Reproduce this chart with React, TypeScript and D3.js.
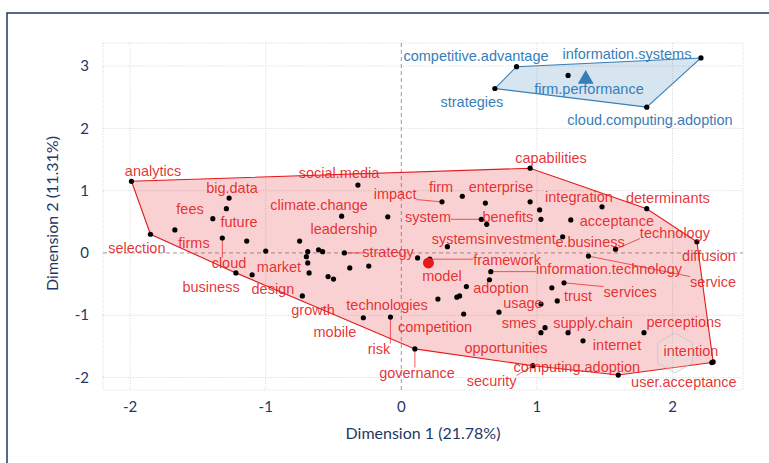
import React from 'react';
import * as d3 from 'd3';

const W = 769;
const H = 463;

const xTicks = [-2, -1, 0, 1, 2];
const yTicks = [-2, -1, 0, 1, 2, 3];
const xTitle = 'Dimension 1 (21.78%)';
const yTitle = 'Dimension 2 (11.31%)';

// [word, x, y, labelX, labelY]  (data units)
const redWords: [string, number, number, number, number][] = [
  ['analytics', -1.99, 1.15, -1.831, 1.315],
  ['selection', -1.85, 0.3, -1.95, 0.079],
  ['big.data', -1.27, 0.88, -1.249, 1.042],
  ['fees', -1.39, 0.55, -1.558, 0.705],
  ['future', -1.29, 0.71, -1.197, 0.496],
  ['firms', -1.67, 0.37, -1.529, 0.159],
  ['cloud', -1.32, 0.24, -1.271, -0.162],
  ['market', -1.0, 0.03, -0.902, -0.226],
  ['business', -1.22, -0.32, -1.403, -0.547],
  ['design', -1.1, -0.35, -0.947, -0.58],
  ['growth', -0.73, -0.69, -0.651, -0.917],
  ['leadership', -0.75, 0.19, -0.423, 0.384],
  ['climate.change', -0.44, 0.59, -0.607, 0.769],
  ['social.media', -0.32, 1.09, -0.459, 1.283],
  ['strategy', -0.42, 0.0, -0.098, 0.014],
  ['impact', 0.3, 0.82, -0.046, 0.945],
  ['firm', 0.45, 0.91, 0.293, 1.058],
  ['enterprise', 0.95, 0.82, 0.735, 1.058],
  ['system', 0.59, 0.54, 0.197, 0.576],
  ['benefits', 0.63, 0.46, 0.786, 0.576],
  ['systems', 0.34, 0.1, 0.42, 0.223],
  ['investment', 1.03, 0.54, 0.88, 0.223],
  ['e.business', 1.19, 0.26, 1.392, 0.175],
  ['technology', 1.58, 0.06, 2.018, 0.319],
  ['diffusion', 2.18, 0.18, 2.269, -0.05],
  ['capabilities', 0.95, 1.36, 1.104, 1.524],
  ['integration', 1.48, 0.74, 1.31, 0.897],
  ['determinants', 1.81, 0.71, 1.966, 0.881],
  ['acceptance', 1.25, 0.53, 1.59, 0.512],
  ['framework', 0.21, -0.1, 0.78, -0.114],
  ['model', 0.12, -0.08, 0.3, -0.371],
  ['information.technology', 0.66, -0.3, 1.532, -0.259],
  ['service', 1.38, -0.05, 2.299, -0.467],
  ['services', 1.2, -0.48, 1.688, -0.628],
  ['trust', 1.15, -0.77, 1.303, -0.692],
  ['adoption', 0.48, -0.54, 0.735, -0.565],
  ['usage', 1.03, -0.82, 0.897, -0.8],
  ['technologies', 0.27, -0.74, -0.105, -0.836],
  ['competition', 0.46, -0.98, 0.249, -1.19],
  ['mobile', -0.28, -1.04, -0.49, -1.27],
  ['risk', -0.08, -1.03, -0.164, -1.543],
  ['governance', 0.1, -1.54, 0.116, -1.928],
  ['security', 0.97, -1.81, 0.666, -2.056],
  ['smes', 1.03, -1.28, 0.868, -1.124],
  ['supply.chain', 1.23, -1.28, 1.414, -1.124],
  ['internet', 1.34, -1.41, 1.591, -1.478],
  ['opportunities', 1.06, -1.2, 0.772, -1.527],
  ['perceptions', 1.79, -1.28, 2.084, -1.109],
  ['intention', 2.3, -1.75, 2.136, -1.575],
  ['user.acceptance', 2.29, -1.76, 2.084, -2.072],
  ['computing.adoption', 1.6, -1.96, 1.295, -1.831],
];

// unlabeled points of the red cluster (labels hidden by overlap)
const redExtra: [number, number][] = [
  [-1.14, 0.19], [-0.69, 0.02], [-0.7, -0.06], [-0.69, -0.16], [-0.68, -0.32],
  [-0.61, 0.05], [-0.58, 0.02], [-0.54, -0.38], [-0.5, -0.42], [-0.1, 0.58],
  [-0.38, -0.24], [-0.24, -0.21], [0.62, 0.8], [0.41, -0.71], [0.43, -0.69],
  [0.65, -0.43], [0.72, -0.95], [1.02, 0.69], [1.11, -0.56],
];

const blueWords: [string, number, number, number, number][] = [
  ['competitive.advantage', 0.85, 2.99, 0.551, 3.16],
  ['information.systems', 2.21, 3.13, 1.664, 3.192],
  ['strategies', 0.69, 2.64, 0.521, 2.422],
  ['firm.performance', 1.23, 2.85, 1.384, 2.631],
  ['cloud.computing.adoption', 1.81, 2.34, 1.834, 2.133],
];

const redCentroid: [number, number] = [0.2, -0.16];
const blueCentroid: [number, number] = [1.36, 2.79];

const RED = '#E41A1C';
const BLUE = '#377EB8';
const NAVY = '#1F3864';
const LABEL_FONT = '"Liberation Sans", Arial, sans-serif';
const LABEL_SIZE = 14.5;
const AXIS_FONT = 'Lato, "Open Sans", sans-serif';

const PANEL = { left: 103, right: 743, top: 43, bottom: 390 };

let ctx: CanvasRenderingContext2D | null = null;
function textWidth(t: string): number {
  if (typeof document === 'undefined') return t.length * 7;
  if (!ctx) ctx = document.createElement('canvas').getContext('2d');
  if (!ctx) return t.length * 7;
  ctx.font = `${LABEL_SIZE}px ${LABEL_FONT}`;
  return ctx.measureText(t).width;
}

export default function App() {
  const x = d3.scaleLinear().domain([-2.2, 2.52]).range([PANEL.left, PANEL.right]);
  const y = d3.scaleLinear().domain([-2.2, 3.37]).range([PANEL.bottom, PANEL.top]);

  const redPts: [number, number][] = [
    ...redWords.map((w) => [x(w[1]), y(w[2])] as [number, number]),
    ...redExtra.map((p) => [x(p[0]), y(p[1])] as [number, number]),
  ];
  const bluePts: [number, number][] = blueWords.map((w) => [x(w[1]), y(w[2])] as [number, number]);
  const redHull = d3.polygonHull(redPts) || [];
  const blueHull = d3.polygonHull(bluePts) || [];
  const line = d3.line<[number, number]>().curve(d3.curveLinearClosed);

  const leader = (w: [string, number, number, number, number], color: string, key: string) => {
    const px = x(w[1]);
    const py = y(w[2]);
    const cx = x(w[3]);
    const cy = y(w[4]);
    const tw = textWidth(w[0]);
    const x0 = cx - tw / 2, x1 = cx + tw / 2, y0 = cy - 5.5, y1 = cy + 5.5;
    const nx = Math.max(x0, Math.min(x1, px));
    const ny = Math.max(y0, Math.min(y1, py));
    const d = Math.hypot(nx - px, ny - py);
    if (d < 16) return null;
    return <line key={key} x1={px} y1={py} x2={nx} y2={ny} stroke={color} strokeWidth={0.7} />;
  };

  const hex = d3.range(6).map((i) => {
    const a = (Math.PI / 3) * i - Math.PI / 2;
    return [675 + 20 * Math.cos(a), 353 + 20 * Math.sin(a)] as [number, number];
  });

  return (
    <svg width={W} height={H} style={{ position: 'absolute', left: 0, top: 0, background: '#fff' }}>
      <rect x={0} y={0} width={W} height={H} fill="#fff" />
      {/* outer frame */}
      <rect x={7} y={13} width={W} height={H} fill="none" stroke={NAVY} strokeWidth={1.5} />

      {/* panel grid */}
      <rect x={PANEL.left} y={PANEL.top} width={PANEL.right - PANEL.left} height={PANEL.bottom - PANEL.top}
        fill="none" stroke="#d6d6d6" strokeWidth={1} strokeDasharray="1,1.5" />
      {xTicks.filter((t) => t !== 0).map((t) => (
        <line key={'gx' + t} x1={x(t)} x2={x(t)} y1={PANEL.top} y2={PANEL.bottom}
          stroke="#d6d6d6" strokeWidth={1} strokeDasharray="1,1.5" />
      ))}
      {yTicks.filter((t) => t !== 0).map((t) => (
        <line key={'gy' + t} y1={y(t)} y2={y(t)} x1={PANEL.left} x2={PANEL.right}
          stroke="#d6d6d6" strokeWidth={1} strokeDasharray="1,1.5" />
      ))}
      <line x1={x(0)} x2={x(0)} y1={PANEL.top} y2={PANEL.bottom} stroke="#9a9a9a" strokeWidth={1} strokeDasharray="4,3" />
      <line y1={y(0)} y2={y(0)} x1={PANEL.left} x2={PANEL.right} stroke="#9a9a9a" strokeWidth={1} strokeDasharray="4,3" />

      {/* hulls */}
      <path d={line(redHull as [number, number][]) || ''} fill={RED} fillOpacity={0.2} stroke={RED} strokeWidth={1.1} />
      <path d={line(blueHull as [number, number][]) || ''} fill={BLUE} fillOpacity={0.2} stroke={BLUE} strokeWidth={1.1} />

      {/* watermark */}
      <path d={line(hex) || ''} fill="#e8e8e8" fillOpacity={0.25} stroke="#bdbdbd" strokeWidth={1} strokeOpacity={0.6} />

      {/* leader lines */}
      {redWords.map((w, i) => leader(w, RED, 'lr' + i))}
      {blueWords.map((w, i) => leader(w, BLUE, 'lb' + i))}

      {/* points */}
      {redPts.map((p, i) => (
        <circle key={'pr' + i} cx={p[0]} cy={p[1]} r={2.6} fill="#000" />
      ))}
      {bluePts.map((p, i) => (
        <circle key={'pb' + i} cx={p[0]} cy={p[1]} r={2.6} fill="#000" />
      ))}

      {/* centroids */}
      <circle cx={x(redCentroid[0])} cy={y(redCentroid[1])} r={5.5} fill={RED} />
      <path d={d3.symbol().type(d3.symbolTriangle).size(110)() || ''}
        transform={`translate(${x(blueCentroid[0])},${y(blueCentroid[1])})`} fill={BLUE} />

      {/* labels */}
      {redWords.map((w, i) => (
        <text key={'tr' + i} x={x(w[3])} y={y(w[4])} dy="0.35em" textAnchor="middle"
          fontFamily={LABEL_FONT} fontSize={LABEL_SIZE} fill={RED} fillOpacity={0.9}>{w[0]}</text>
      ))}
      {blueWords.map((w, i) => (
        <text key={'tb' + i} x={x(w[3])} y={y(w[4])} dy="0.35em" textAnchor="middle"
          fontFamily={LABEL_FONT} fontSize={LABEL_SIZE} fill={BLUE}>{w[0]}</text>
      ))}

      {/* axes */}
      {xTicks.map((t) => (
        <text key={'tx' + t} x={x(t)} y={407} dy="0.35em" textAnchor="middle"
          fontFamily={AXIS_FONT} fontSize={15} fill={NAVY}>{t}</text>
      ))}
      {yTicks.map((t) => (
        <text key={'ty' + t} x={89} y={y(t)} dy="0.35em" textAnchor="end"
          fontFamily={AXIS_FONT} fontSize={15} fill={NAVY}>{t}</text>
      ))}
      <text x={(PANEL.left + PANEL.right) / 2} y={433} dy="0.35em" textAnchor="middle"
        fontFamily={AXIS_FONT} fontSize={16} fill={NAVY}>{xTitle}</text>
      <text transform={`translate(52,${(PANEL.top + PANEL.bottom) / 2 - 3}) rotate(-90)`} dy="0.35em" textAnchor="middle"
        fontFamily={AXIS_FONT} fontSize={16} fill={NAVY}>{yTitle}</text>
    </svg>
  );
}
